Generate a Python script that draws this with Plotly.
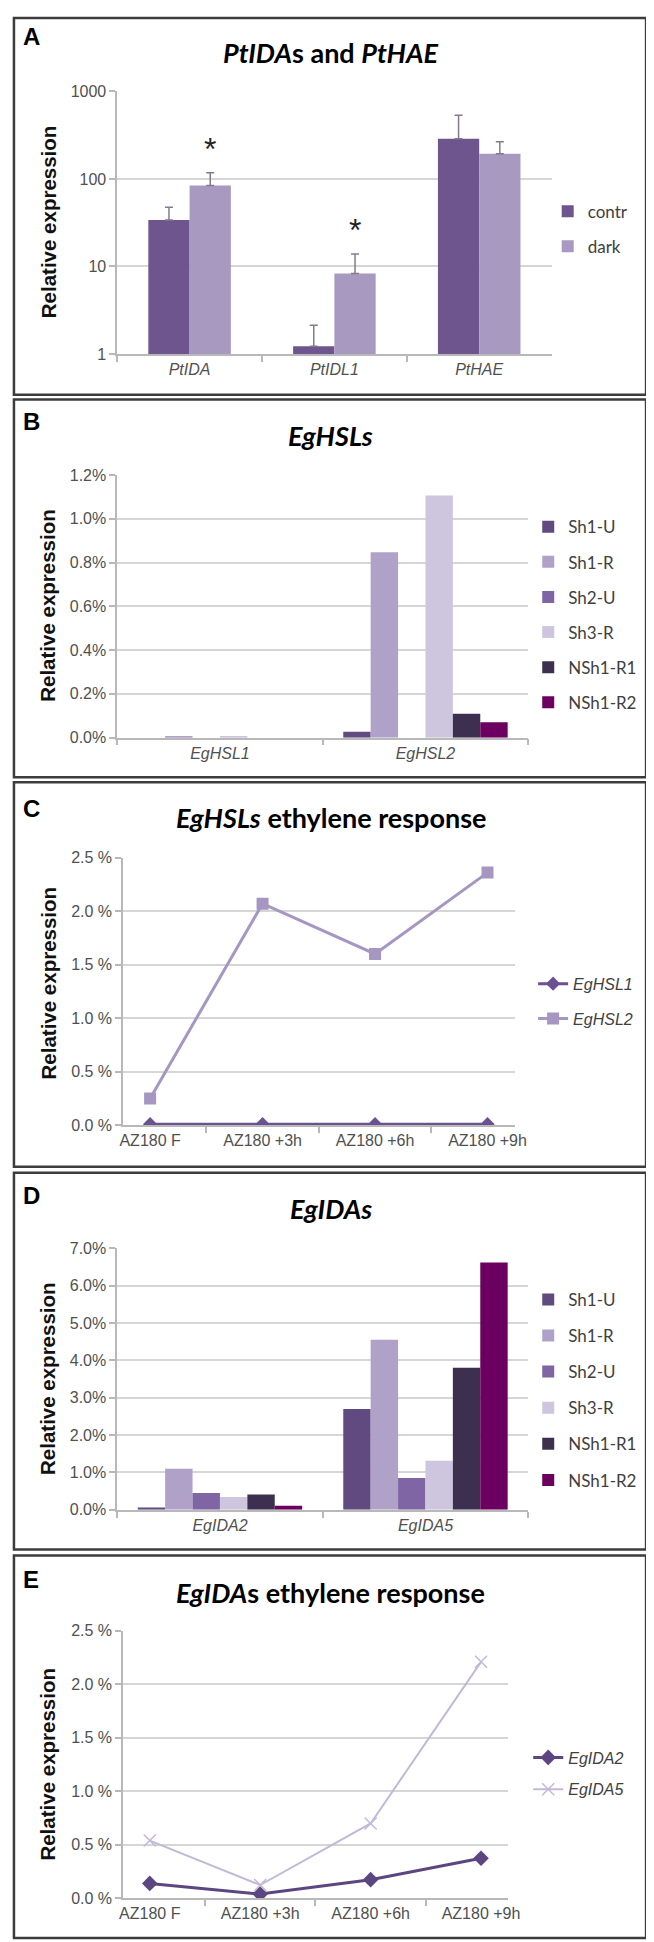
import math
import plotly.graph_objects as go

W, H = 654, 1942
def fx(p): return p / W
def fy(p): return 1 - p / H

# ---------------- data ----------------
# Panel A
A_genes = ["PtIDA", "PtIDL1", "PtHAE"]
A_contr = [34, 1.23, 287]
A_contr_err = [13.5, 0.9, 248]
A_dark = [84, 8.3, 194]
A_dark_err = [34, 5.6, 71]
A_dark_signif = [True, True, False]
A_yticks = [1, 10, 100, 1000]
A_yticklabels = ["1", "10", "100", "1000"]

# Panel B
B_genes = ["EgHSL1", "EgHSL2"]
tissues = ["Sh1-U", "Sh1-R", "Sh2-U", "Sh3-R", "NSh1-R1", "NSh1-R2"]
B_Sh1U = [0.0, 0.027]
B_Sh1R = [0.005, 0.847]
B_Sh2U = [0.0, 0.0]
B_Sh3R = [0.005, 1.107]
B_NSh1R1 = [0.0, 0.109]
B_NSh1R2 = [0.0, 0.07]

# Panel C
times = ["AZ180 F", "AZ180 +3h", "AZ180 +6h", "AZ180 +9h"]
C_EgHSL1 = [0.01, 0.01, 0.01, 0.01]
C_EgHSL2 = [0.25, 2.07, 1.60, 2.36]

# Panel D
D_genes = ["EgIDA2", "EgIDA5"]
D_Sh1U = [0.06, 2.70]
D_Sh1R = [1.10, 4.55]
D_Sh2U = [0.45, 0.85]
D_Sh3R = [0.34, 1.31]
D_NSh1R1 = [0.41, 3.80]
D_NSh1R2 = [0.11, 6.62]

# Panel E
E_EgIDA2 = [0.14, 0.04, 0.175, 0.375]
E_EgIDA5 = [0.54, 0.125, 0.70, 2.21]

# ---------------- styles ----------------
C_CONTR = "#6e558e"
C_DARK = "#a899c0"
TISSUE_COLORS = ["#614a80", "#b0a1c9", "#8065a4", "#cec5de", "#3d2f4f", "#6b0060"]
GRID = "#d6d6d6"
AXL = "#b8b8b8"
TICKF = dict(family="Liberation Sans, Arial", size=16, color="#505050")
LEGF = dict(family="Lato, Open Sans", size=17, color="#404040")
TITLEF = dict(family="Lato, Open Sans", size=27, color="#000000")

fig = go.Figure()

# Panel A bars
bw_a = 0.285
for i, (nm, vals, errs, col) in enumerate([("contr", A_contr, A_contr_err, C_CONTR),
                                            ("dark", A_dark, A_dark_err, C_DARK)]):
    fig.add_trace(go.Bar(
        x=A_genes, y=vals, name=nm, marker=dict(color=col, line=dict(width=0)),
        width=bw_a, offset=-bw_a + i * bw_a,
        error_y=dict(type="data", symmetric=False, array=errs, arrayminus=[0] * len(errs),
                     color="#85798f", thickness=1.5, width=4),
        xaxis="x", yaxis="y", legend="legend", legendgroup="a" + nm))

# Panel B / D bars
bw = 0.8 / 6
for panel, series, xa, ya, lg in [
        ("b", [B_Sh1U, B_Sh1R, B_Sh2U, B_Sh3R, B_NSh1R1, B_NSh1R2], "x2", "y2", "legend2"),
        ("d", [D_Sh1U, D_Sh1R, D_Sh2U, D_Sh3R, D_NSh1R1, D_NSh1R2], "x4", "y4", "legend4")]:
    genes = B_genes if panel == "b" else D_genes
    for i, (nm, vals) in enumerate(zip(tissues, series)):
        fig.add_trace(go.Bar(
            x=genes, y=vals, name=nm, marker=dict(color=TISSUE_COLORS[i], line=dict(width=0)),
            width=bw, offset=-0.4 + i * bw,
            xaxis=xa, yaxis=ya, legend=lg, legendgroup=panel + nm))

# Panel C lines
fig.add_trace(go.Scatter(x=times, y=C_EgHSL1, name="<i>EgHSL1</i>", mode="lines+markers",
                         line=dict(color="#6a5290", width=3),
                         marker=dict(symbol="diamond", size=11, color="#6a5290"),
                         xaxis="x3", yaxis="y3", legend="legend3", legendgroup="c1"))
fig.add_trace(go.Scatter(x=times, y=C_EgHSL2, name="<i>EgHSL2</i>", mode="lines+markers",
                         line=dict(color="#a596c2", width=3),
                         marker=dict(symbol="square", size=12, color="#a596c2"),
                         xaxis="x3", yaxis="y3", legend="legend3", legendgroup="c2"))

# Panel E lines
fig.add_trace(go.Scatter(x=times, y=E_EgIDA2, name="<i>EgIDA2</i>", mode="lines+markers",
                         line=dict(color="#5c4682", width=3),
                         marker=dict(symbol="diamond", size=12, color="#5c4682"),
                         xaxis="x5", yaxis="y5", legend="legend5", legendgroup="e1"))
fig.add_trace(go.Scatter(x=times, y=E_EgIDA5, name="<i>EgIDA5</i>", mode="lines+markers",
                         line=dict(color="#c3b8d8", width=2),
                         marker=dict(symbol="x-thin-open", size=12, color="#c3b8d8",
                                     line=dict(color="#c3b8d8", width=1.5)),
                         xaxis="x5", yaxis="y5", legend="legend5", legendgroup="e2"))

# ---------------- axes ----------------
def xax(x0, x1, anchor, italic=True):
    return dict(domain=[fx(x0), fx(x1)], anchor=anchor, type="category",
                showline=True, linecolor=AXL, linewidth=1.5,
                ticks="outside", tickson="boundaries", ticklen=6, tickcolor=AXL, tickwidth=1.5,
                tickfont=dict(TICKF, style="italic" if italic else "normal"),
                showgrid=False, zeroline=False, fixedrange=True)

def yax(top, bot, anchor, **kw):
    d = dict(domain=[fy(bot), fy(top)], anchor=anchor,
             showline=True, linecolor=AXL, linewidth=1.5,
             ticks="outside", ticklen=6, tickcolor=AXL, tickwidth=1.5,
             tickfont=TICKF, showgrid=True, gridcolor=GRID, gridwidth=1.5,
             zeroline=False, fixedrange=True)
    d.update(kw)
    return d

layout = dict(
    width=W, height=H, margin=dict(l=0, r=0, t=0, b=0),
    paper_bgcolor="white", plot_bgcolor="white",
    barmode="group", showlegend=True,
    xaxis=xax(108, 554, "y"),
    yaxis=yax(76, 341, "x", type="log", range=[0, 3.0005], tickvals=A_yticks, ticktext=A_yticklabels),
    xaxis2=xax(108, 530, "y2"),
    yaxis2=yax(463, 728, "x2", range=[0, 1.2005], dtick=0.2, tickformat=".1f", ticksuffix="%"),
    xaxis3=xax(114, 516, "y3", italic=False),
    yaxis3=yax(849, 1119, "x3", range=[0, 2.5005], dtick=0.5, tickformat=".1f", ticksuffix=" %"),
    xaxis4=xax(108, 530, "y4"),
    yaxis4=yax(1243, 1507, "x4", range=[0, 7.003], dtick=1, tickformat=".1f", ticksuffix="%"),
    xaxis5=xax(114, 509, "y5", italic=False),
    yaxis5=yax(1629, 1899, "x5", range=[0, 2.5005], dtick=0.5, tickformat=".1f", ticksuffix=" %"),
)

def leg(xp, ymid, font, gap):
    return dict(x=fx(xp), y=fy(ymid), xanchor="left", yanchor="middle",
                xref="paper", yref="paper", font=font, bgcolor="rgba(0,0,0,0)",
                tracegroupgap=gap, itemwidth=30, traceorder="grouped",
                itemclick=False, itemdoubleclick=False)

LINEF = dict(family="Liberation Sans, Arial", size=16, color="#404040")
layout["legend"] = leg(550, 215, LEGF, 10)
layout["legend2"] = leg(530, 604, LEGF, 10)
layout["legend3"] = leg(535, 994, LINEF, 11)
layout["legend4"] = leg(530, 1386, LEGF, 11)
layout["legend5"] = leg(530, 1773, LINEF, 8)
fig.update_layout(**layout)

# ---------------- panel frames, letters, titles, axis titles ----------------
boxes = [(2, 382), (387, 768), (773, 1161), (1167, 1547), (1553, 1939)]
for (t, b) in boxes:
    fig.add_shape(type="rect", xref="paper", yref="paper", x0=fx(2), x1=fx(651),
                  y0=fy(b), y1=fy(t), line=dict(color="#3c3c3c", width=2.5), layer="above")

letters = [("A", 21), ("B", 409), ("C", 799), ("D", 1190), ("E", 1577)]
for (s, yy) in letters:
    fig.add_annotation(text="<b>" + s + "</b>", xref="paper", yref="paper", x=fx(9), y=fy(yy),
                       xanchor="left", yanchor="middle", showarrow=False,
                       font=dict(family="Liberation Sans, Arial", size=24, color="#000"))

titles = [("<b><i>PtIDA</i>s and <i>PtHAE</i></b>", 37),
          ("<b><i>EgHSLs</i></b>", 423),
          ("<b><i>EgHSLs</i> ethylene response</b>", 809),
          ("<b><i>EgIDAs</i></b>", 1203),
          ("<b><i>EgIDA</i>s ethylene response</b>", 1590)]
for (s, yy) in titles:
    fig.add_annotation(text=s, xref="paper", yref="paper", x=fx(327), y=fy(yy),
                       xanchor="center", yanchor="middle", showarrow=False, font=TITLEF)

ytitle_y = [208, 595, 976, 1375, 1764]
for yy in ytitle_y:
    fig.add_annotation(text="<b>Relative expression</b>", xref="paper", yref="paper",
                       x=fx(37), y=fy(yy), xanchor="center", yanchor="middle",
                       textangle=-90, showarrow=False,
                       font=dict(family="Liberation Sans, Arial", size=20.5, color="#111"))

# significance asterisks above the dark bars (panel A)
for i, (v, e, s) in enumerate(zip(A_dark, A_dark_err, A_dark_signif)):
    if s:
        fig.add_annotation(text="*", xref="x", yref="y", x=i + bw_a / 2,
                           y=math.log10(v + e), yanchor="bottom", yshift=4,
                           showarrow=False,
                           font=dict(family="Liberation Sans, Arial", size=32, color="#222"))

fig.write_html("out.html")
